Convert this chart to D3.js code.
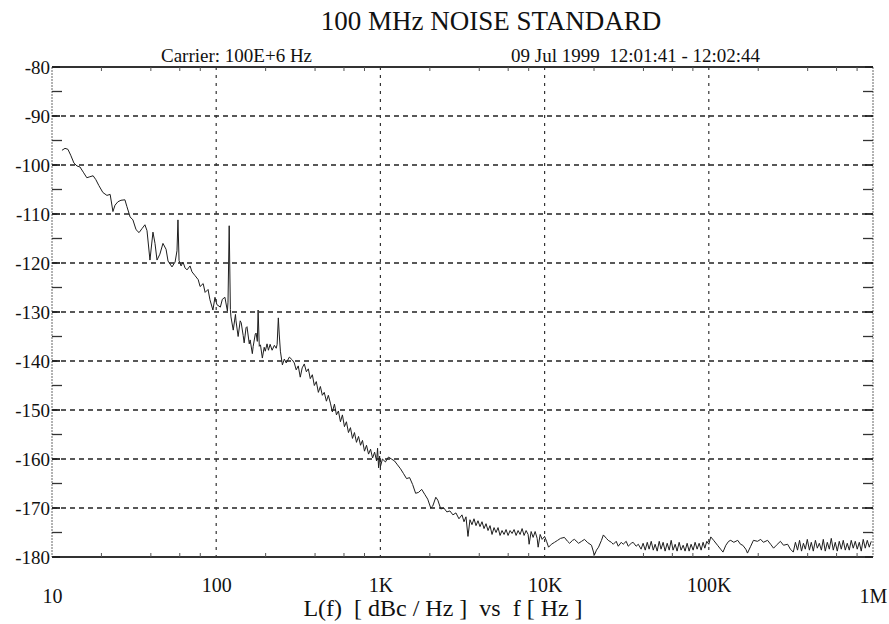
<!DOCTYPE html>
<html>
<head>
<meta charset="utf-8">
<script src="https://cdn.jsdelivr.net/npm/d3@7"></script>
<style>
  html, body { margin: 0; padding: 0; background: #fff; }
  svg { display: block; }
  svg text { font-family: "Liberation Serif", "DejaVu Serif", serif; }
</style>
</head>
<body>
<svg id="chart" width="889" height="624"></svg>
<script>
const title = "100 MHz NOISE STANDARD";
const carrierText = "Carrier: 100E+6 Hz";
const dateText = "09 Jul 1999  12:01:41 - 12:02:44";
const axisTitle = "L(f)  [ dBc / Hz ]  vs  f [ Hz ]";

const yTicks = [-80, -90, -100, -110, -120, -130, -140, -150, -160, -170, -180];
const yMinor = [-85, -95, -105, -115, -125, -135, -145, -155, -165, -175];
const xTicks = [10, 100, 1e3, 1e4, 1e5, 1e6];
const xTickLabels = ["10", "100", "1K", "10K", "100K", "1M"];
const xGrid = [100, 1e3, 1e4, 1e5];
const xMinor = [20, 40, 60, 80, 200, 400, 600, 800, 2e3, 4e3, 6e3, 8e3,
  2e4, 4e4, 6e4, 8e4, 2e5, 4e5, 6e5, 8e5];

// trace: offset frequency (Hz) and L(f) (dBc/Hz)
const freqHz = [
  11.5, 12.0, 12.5, 13.0, 13.6, 14.2, 14.8, 15.6, 16.3, 17.0, 17.8, 18.5, 19.3, 20.4, 21.6, 22.6,
  23.5, 24.2, 25.2, 26.3, 27.8, 28.6, 29.9, 31.1, 32.5, 33.9, 35.3, 36.8, 37.9, 39.5, 41.2, 42.4,
  43.6, 45.4, 47.4, 49.5, 50.9, 53.8, 56.2, 57.7, 58.5, 59.4, 61.1, 62.8, 64.6, 66.4, 69.3, 71.2,
  74.4, 77.7, 79.8, 83.3, 85.6, 89.2, 91.6, 95.5, 98.3,
  101, 106, 109, 113, 117, 118, 120, 122, 123, 127, 131, 132, 136, 140, 142, 146,
  148, 152, 154, 159, 161, 166, 168, 173, 175, 178, 180, 183, 186, 191, 196, 199,
  204, 208, 213, 219, 226, 232, 235, 239, 242, 246, 253, 260, 267, 279, 291, 299,
  307, 316, 325, 334, 344, 354, 364, 374, 385, 396, 407, 419, 431, 443, 455, 469,
  482, 496, 510, 525, 540, 555, 571, 587, 604, 621, 639, 657, 676, 695, 715, 736,
  757, 778, 800, 823, 847, 871, 896, 922, 948, 961, 975, 989, 1000,
  1029, 1073, 1120, 1168, 1219, 1271, 1326, 1384, 1443, 1506, 1571, 1639, 1710, 1784, 1861, 1942,
  2026, 2084, 2175, 2237, 2333, 2434, 2540, 2650, 2765, 2884, 3009, 3139, 3229, 3320, 3415, 3512,
  3612, 3715, 3821, 3930, 4042, 4157, 4276, 4398, 4523, 4652, 4785, 4921, 5061, 5206, 5354, 5507,
  5664, 5825, 5991, 6162, 6338, 6519, 6704, 6896, 7092, 7294, 7502, 7716, 7936, 8049, 8280, 8515,
  8758, 9008, 9136, 9396, 9664,
  10000, 10280, 10570, 11000, 11500, 12000, 12500, 13200, 13800, 14200, 14800, 15200, 16100, 16800,
  17500, 18200, 19300, 20100, 20700, 21300, 22200, 22800, 23800, 24400, 25500, 26200, 27300, 28100,
  29300, 30100, 31400, 32300, 33700, 34600, 36100, 37200, 38700, 39800, 41000, 42200, 43300, 44600,
  45900, 47100, 48500, 49900, 51200, 52700, 54200, 55800, 57400, 59000, 60600, 62400, 64100, 66000,
  67800, 69800, 71700, 73800, 75900, 78000, 80300, 82500, 84900, 87300, 89800, 92300, 94600, 97200,
  100000, 102800, 107000, 113000, 118000, 122000, 127000, 132000, 136000, 142000, 150000, 156000,
  161000, 168000, 172000, 180000, 187000, 198000, 207000, 215000, 228000, 238000, 248000, 258000,
  273000, 285000, 302000, 314000, 327000, 337000, 347000, 357000, 367000, 377000, 387000, 398000,
  410000, 421000, 433000, 446000, 458000, 471000, 485000, 498000, 512000, 527000, 542000, 557000,
  573000, 589000, 606000, 623000, 641000, 659000, 678000, 697000, 717000, 737000, 758000, 780000,
  802000, 825000, 848000, 872000, 897000, 923000, 949000, 976000
];
const levelDbc = [
  -97.0, -96.6, -96.8, -98.0, -99.6, -100.2, -100.4, -101.6, -102.6, -102.4, -102.2, -103.0, -104.2, -105.6, -106.2, -106.0,
  -109.5, -108.2, -107.5, -107.2, -107.1, -108.5, -110.6, -111.2, -113.2, -113.8, -113.0, -112.2, -113.4, -119.4, -113.7, -116.0,
  -119.4, -118.2, -116.0, -117.2, -119.6, -120.8, -119.8, -117.5, -111.2, -119.5, -120.6, -119.8, -121.0, -121.4, -120.6, -121.8,
  -122.6, -123.4, -124.8, -124.2, -126.0, -125.4, -127.5, -129.6, -127.0,
  -128.5, -129.0, -127.4, -127.0, -129.8, -128.0, -112.4, -129.5, -131.0, -133.7, -130.5, -131.8, -135.0, -131.8, -132.2, -134.8,
  -136.3, -133.2, -133.0, -136.5, -135.7, -138.5, -137.0, -134.5, -134.3, -136.0, -129.6, -137.0, -136.7, -139.4, -137.2, -138.0,
  -136.5, -137.8, -136.6, -137.8, -136.8, -137.4, -136.6, -131.2, -134.5, -138.0, -140.8, -139.6, -140.4, -139.2, -139.8, -140.4,
  -141.8, -141.0, -143.3, -141.4, -140.6, -142.2, -141.6, -143.6, -142.8, -145.0, -144.2, -146.4, -145.2, -147.0, -146.4, -148.2,
  -147.0, -148.6, -150.4, -148.8, -151.0, -150.2, -152.4, -151.0, -153.4, -152.4, -154.6, -153.6, -155.8, -154.6, -156.6, -155.4,
  -157.2, -156.2, -158.4, -157.2, -159.0, -158.0, -159.8, -158.6, -160.4, -157.8, -161.8, -159.4, -161.6,
  -160.0, -160.6, -159.6, -160.0, -160.4, -161.2, -162.0, -163.0, -164.0, -163.8, -165.2, -167.0, -166.8, -166.2, -167.2, -168.2,
  -170.0, -169.6, -167.8, -168.4, -170.2, -170.0, -170.8, -170.6, -171.4, -171.0, -172.2, -171.4, -172.8, -171.8, -175.8, -172.4,
  -173.4, -172.2, -173.6, -172.6, -173.8, -172.8, -174.2, -173.2, -174.6, -173.6, -175.4, -174.0, -175.0, -174.0, -175.6, -174.6,
  -175.4, -174.4, -175.6, -174.6, -175.2, -174.4, -175.6, -174.6, -175.4, -174.2, -175.6, -174.6, -175.4, -177.4, -174.8, -176.0,
  -174.8, -176.2, -178.0, -175.4, -176.4,
  -175.8, -176.8, -178.0, -177.4, -177.0, -176.6, -176.2, -176.0, -176.8, -177.2, -176.6, -176.4, -177.2, -176.8,
  -176.4, -177.0, -177.6, -179.6, -178.6, -178.0, -176.6, -175.5, -176.2, -176.6, -177.0, -177.4, -176.8, -177.8,
  -177.0, -177.4, -176.8, -177.8, -177.2, -177.0, -177.8, -177.4, -178.4, -177.2, -178.6, -177.0, -178.4, -176.8,
  -178.6, -177.4, -178.8, -176.8, -178.4, -177.0, -178.8, -177.2, -178.6, -176.6, -178.6, -177.4, -178.8, -177.0,
  -178.6, -177.6, -178.8, -177.2, -178.8, -177.4, -178.6, -177.0, -178.4, -177.2, -178.6, -177.0, -178.2, -176.8,
  -177.4, -175.9, -176.6, -177.6, -178.4, -179.0, -177.6, -176.8, -176.6, -177.0, -176.6, -177.4,
  -177.6, -178.4, -179.2, -177.8, -176.6, -176.8, -176.4, -177.0, -176.6, -177.4, -178.2, -177.6,
  -176.8, -177.6, -177.4, -178.4, -179.0, -177.0, -178.6, -176.6, -178.8, -177.2, -178.4, -176.4,
  -178.6, -177.0, -178.8, -176.6, -178.2, -177.2, -178.6, -176.4, -178.8, -177.0, -178.4, -176.2,
  -178.6, -177.0, -178.8, -176.8, -178.4, -176.6, -178.6, -177.2, -178.6, -176.6, -178.2, -176.8,
  -178.4, -177.0, -178.8, -176.4, -178.2, -176.6, -178.0, -176.8
];

const width = 889;
const height = 624;
const margin = {top: 67, right: 16, bottom: 67, left: 52};
const plotW = width - margin.left - margin.right;
const plotH = height - margin.top - margin.bottom;
const serif = "Liberation Serif, DejaVu Serif, serif";

const svg = d3.select("#chart");

const x = d3.scaleLog().domain([10, 1e6]).range([margin.left, margin.left + plotW]);
const y = d3.scaleLinear().domain([-180, -80]).range([margin.top + plotH, margin.top]);

// horizontal grid
svg.append("g")
  .selectAll("line")
  .data(yTicks.slice(1, -1))
  .join("line")
  .attr("x1", margin.left).attr("x2", margin.left + plotW)
  .attr("y1", d => y(d)).attr("y2", d => y(d))
  .attr("stroke", "#222").attr("stroke-width", 1.3)
  .attr("stroke-dasharray", "5,4");

// vertical grid at decades
svg.append("g")
  .selectAll("line")
  .data(xGrid)
  .join("line")
  .attr("x1", d => x(d)).attr("x2", d => x(d))
  .attr("y1", margin.top).attr("y2", margin.top + plotH)
  .attr("stroke", "#333").attr("stroke-width", 1.2)
  .attr("stroke-dasharray", "3,5");

// frame
svg.append("line")
  .attr("x1", margin.left).attr("x2", margin.left + plotW)
  .attr("y1", margin.top).attr("y2", margin.top)
  .attr("stroke", "#333").attr("stroke-width", 1.8);
svg.append("line")
  .attr("x1", margin.left).attr("x2", margin.left + plotW)
  .attr("y1", margin.top + plotH).attr("y2", margin.top + plotH)
  .attr("stroke", "#333").attr("stroke-width", 1.8);
[margin.left, margin.left + plotW].forEach(px => {
  svg.append("line")
    .attr("x1", px).attr("x2", px)
    .attr("y1", margin.top).attr("y2", margin.top + plotH)
    .attr("stroke", "#666").attr("stroke-width", 1)
    .attr("stroke-dasharray", "2,1");
});

// y axis labels and ticks
const yAxis = svg.append("g")
  .attr("transform", `translate(${margin.left},0)`)
  .call(d3.axisLeft(y).tickValues(yTicks).tickSize(0).tickPadding(2).tickFormat(d => String(d)));
yAxis.attr("font-family", serif);
yAxis.select(".domain").remove();
yAxis.selectAll("text")
  .attr("font-family", serif).attr("font-size", 19).attr("fill", "#111");

const tickSides = [
  {x0: margin.left, dir: 1},
  {x0: margin.left + plotW, dir: -1}
];
tickSides.forEach(s => {
  svg.append("g").selectAll("line")
    .data(yMinor)
    .join("line")
    .attr("x1", s.x0).attr("x2", s.x0 + s.dir * 10)
    .attr("y1", d => y(d)).attr("y2", d => y(d))
    .attr("stroke", "#333").attr("stroke-width", 1.3);
  svg.append("g").selectAll("line")
    .data(yTicks)
    .join("line")
    .attr("x1", s.x0).attr("x2", s.x0 + s.dir * 8)
    .attr("y1", d => y(d)).attr("y2", d => y(d))
    .attr("stroke", "#222").attr("stroke-width", 1.8);
});

// x minor ticks, top and bottom
[{y0: margin.top, dir: 1}, {y0: margin.top + plotH, dir: -1}].forEach(s => {
  svg.append("g").selectAll("line")
    .data(xMinor)
    .join("line")
    .attr("x1", d => x(d)).attr("x2", d => x(d))
    .attr("y1", s.y0).attr("y2", s.y0 + s.dir * 4)
    .attr("stroke", "#555").attr("stroke-width", 1);
});

// x axis labels
const xAxis = svg.append("g")
  .attr("transform", `translate(0,${margin.top + plotH})`)
  .call(d3.axisBottom(x).tickValues(xTicks).tickSize(0).tickPadding(0)
    .tickFormat((d, i) => xTickLabels[i]));
xAxis.attr("font-family", serif);
xAxis.select(".domain").remove();
xAxis.selectAll("text")
  .attr("font-family", serif).attr("font-size", 20).attr("fill", "#111")
  .attr("dy", null)
  .attr("y", (d, i) => (i === 0 || i === xTicks.length - 1) ? 46 : 35);

// trace
const line = d3.line()
  .x((d, i) => x(freqHz[i]))
  .y(d => y(d));
svg.append("path")
  .datum(levelDbc)
  .attr("d", line)
  .attr("fill", "none")
  .attr("stroke", "#1e1e1e")
  .attr("stroke-width", 1)
  .attr("stroke-linejoin", "round");

// texts
svg.append("text")
  .attr("x", 491).attr("y", 30)
  .attr("text-anchor", "middle")
  .attr("font-family", serif)
  .attr("font-size", 27).attr("fill", "#111")
  .text(title);
svg.append("text")
  .attr("x", 161).attr("y", 62)
  .attr("font-family", serif)
  .attr("font-size", 19).attr("fill", "#111")
  .text(carrierText);
svg.append("text")
  .attr("x", 511).attr("y", 62)
  .attr("font-family", serif)
  .attr("font-size", 19).attr("fill", "#111")
  .style("white-space", "pre")
  .text(dateText);
svg.append("text")
  .attr("x", 443).attr("y", 616)
  .attr("text-anchor", "middle")
  .attr("font-family", serif)
  .attr("font-size", 24).attr("fill", "#111")
  .style("white-space", "pre")
  .text(axisTitle);
</script>
</body>
</html>
